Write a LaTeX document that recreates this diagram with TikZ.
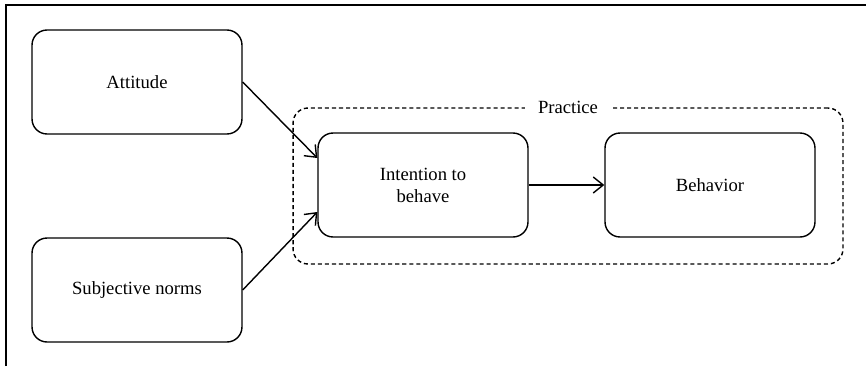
\documentclass[tikz,border=0pt]{standalone}
\usepackage{fontspec}
\setmainfont{Liberation Serif}
\usetikzlibrary{arrows.meta}

\begin{document}
\begin{tikzpicture}[x=0.02cm,y=-0.02cm,line width=0.8pt,
    block/.style={draw,rounded corners=0.3cm,minimum width=4.2cm,minimum height=2.08cm,align=center,font=\fontsize{10.6}{12.6}\selectfont},
    practicebox/.style={draw,dash pattern=on 2.3pt off 1.7pt,rounded corners=0.3cm,minimum width=11cm,minimum height=3.12cm},
    link/.style={-{Straight Barb[length=2mm,width=3.2mm]}}]
    \useasboundingbox (0,0) rectangle (866,366);
    \coordinate (F1) at (6,366);
    \coordinate (F2) at (6,5);
    \coordinate (F3) at (866,5);

    \draw (F1) -- (F2) -- (F3);

%boxes
    \node[practicebox] (practice) at (568,186) {};
    \node[block] (attitude) at (137,82) {Attitude};
    \node[block] (norms) at (137,290) {Subjective norms};
    \node[block] (intention) at (423,185) {Intention to\\behave};
    \node[block] (behavior) at (710,185) {Behavior};

%labels
    \node[fill=white,inner xsep=0.26cm,font=\fontsize{10.6}{12.6}\selectfont] (practicelabel) at (practice.north) {Practice};

%arrows
    \draw[link] (attitude.east) -- ([yshift=0.54cm]intention.west);
    \draw[link] (norms.east) -- ([yshift=-0.54cm]intention.west);
    \draw[link] (intention) -- (behavior);

\end{tikzpicture}
\end{document}
